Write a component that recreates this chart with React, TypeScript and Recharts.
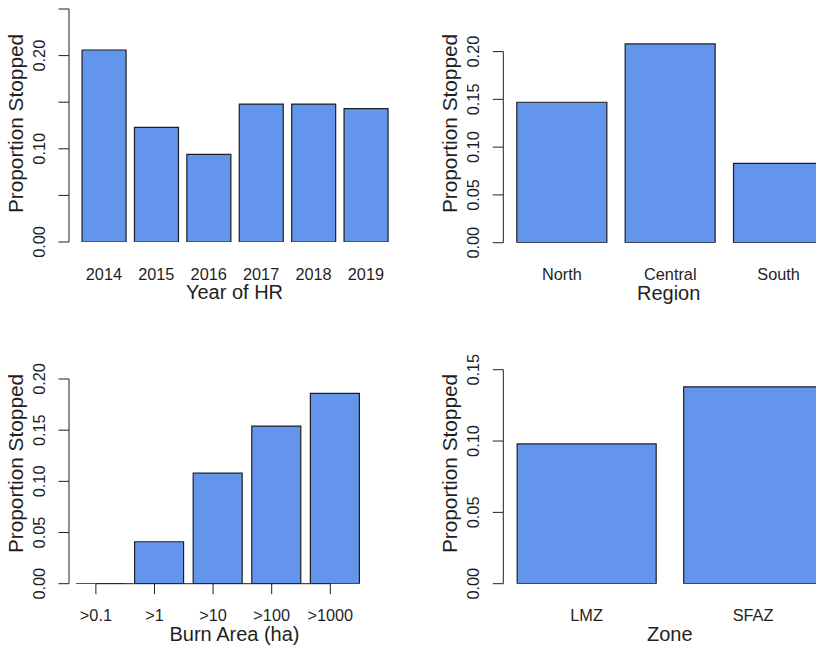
import { BarChart, Bar, XAxis, YAxis } from 'recharts';

// Proportion stopped, split four ways
const years = ['2014', '2015', '2016', '2017', '2018', '2019'];
const yearProp = [0.206, 0.123, 0.094, 0.148, 0.148, 0.143];
const yearTicks = [0, 0.05, 0.1, 0.15, 0.2, 0.25];

const regions = ['North', 'Central', 'South'];
const regionProp = [0.147, 0.208, 0.083];
const regionTicks = [0, 0.05, 0.1, 0.15, 0.2];

const burnAreas = ['>0.1', '>1', '>10', '>100', '>1000'];
const burnProp = [0, 0.041, 0.108, 0.154, 0.186];
const burnTicks = [0, 0.05, 0.1, 0.15, 0.2];

const zones = ['LMZ', 'SFAZ'];
const zoneProp = [0.098, 0.138];
const zoneTicks = [0, 0.05, 0.1, 0.15];

const FONT = '"Liberation Sans", Arial, sans-serif';
const INK = '#1f1f1f';
const BAR_FILL = '#6495ED';
const TICK_LEN = 10.5;

const toRows = (names: string[], values: number[]) =>
  names.map((name, i) => ({ name, value: values[i] }));

// R draws zero-height bars as a flat line, so use a path instead of a rect
function barShape(props: any) {
  const { x, y, width, height } = props;
  return (
    <path
      d={`M${x},${y}h${width}v${height}h${-width}Z`}
      fill={BAR_FILL}
      stroke={INK}
      strokeWidth={1.2}
    />
  );
}

// y ticks: tick mark, axis segment down to previous tick, rotated label
function makeYTick(labelEvery: number) {
  const prev: number[] = [];
  return (props: any) => {
    const { x, y, payload, index } = props;
    prev[index] = y;
    const lx = x - 24;
    return (
      <g>
        <line x1={x - TICK_LEN} x2={x} y1={y} y2={y} stroke={INK} />
        {index > 0 && <line x1={x} x2={x} y1={prev[index - 1]} y2={y} stroke={INK} />}
        {index % labelEvery === 0 && (
          <text
            x={lx}
            y={y}
            transform={`rotate(-90, ${lx}, ${y})`}
            textAnchor="middle"
            fontSize={16.3}
            fontFamily={FONT}
            fill={INK}
          >
            {Number(payload.value).toFixed(2)}
          </text>
        )}
      </g>
    );
  };
}

function makeXTick(shift: number, withAxis: boolean) {
  const prev: number[] = [];
  return (props: any) => {
    const { x, y, payload, index } = props;
    const cx = x + shift;
    prev[index] = cx;
    return (
      <g>
        {withAxis && <line x1={cx} x2={cx} y1={y} y2={y + TICK_LEN} stroke={INK} />}
        {withAxis && index > 0 && (
          <line x1={prev[index - 1]} x2={cx} y1={y} y2={y} stroke={INK} />
        )}
        <text x={cx} y={y + 37.5} textAnchor="middle" fontSize={16.3} fontFamily={FONT} fill={INK}>
          {payload.value}
        </text>
      </g>
    );
  };
}

function yTitle(text: string) {
  return (props: any) => {
    const vb = props.viewBox;
    const bx = vb.x + vb.width - 46;
    const cy = 123.5;
    return (
      <text
        x={bx}
        y={cy}
        transform={`rotate(-90, ${bx}, ${cy})`}
        textAnchor="middle"
        fontSize={20.8}
        fontFamily={FONT}
        fill={INK}
      >
        {text}
      </text>
    );
  };
}

function xTitle(text: string) {
  return (props: any) => {
    const vb = props.viewBox;
    return (
      <text x={vb.x + vb.width / 2} y={vb.y + 57} textAnchor="middle" fontSize={20} fontFamily={FONT} fill={INK}>
        {text}
      </text>
    );
  };
}

interface PanelProps {
  left: number;
  top: number;
  height: number;
  marginTop: number;
  marginRight: number;
  axisWidth: number;
  plotBottom: number;
  padLeft: number;
  padRight: number;
  data: { name: string; value: number }[];
  ticks: number[];
  labelEvery: number;
  xLabel: string;
  tickShift?: number;
  withXAxis?: boolean;
}

function Panel(p: PanelProps) {
  return (
    <div style={{ position: 'absolute', left: p.left, top: p.top }}>
      <BarChart
        width={420}
        height={p.height}
        data={p.data}
        margin={{ top: p.marginTop, right: p.marginRight, bottom: 0, left: 0 }}
        barCategoryGap="8.333%"
      >
        <XAxis
          dataKey="name"
          interval={0}
          height={p.height - p.plotBottom}
          axisLine={false}
          tickLine={false}
          tickSize={0}
          tickMargin={0}
          padding={{ left: p.padLeft, right: p.padRight }}
          tick={makeXTick(p.tickShift ?? 0, !!p.withXAxis)}
          label={xTitle(p.xLabel)}
        />
        <YAxis
          width={p.axisWidth}
          domain={[p.ticks[0], 0.25]}
          ticks={p.ticks}
          interval={0}
          allowDataOverflow
          axisLine={false}
          tickLine={false}
          tickSize={0}
          tickMargin={0}
          tick={makeYTick(p.labelEvery)}
          label={yTitle('Proportion Stopped')}
        />
        <Bar dataKey="value" shape={barShape} isAnimationActive={false} />
      </BarChart>
    </div>
  );
}

export default function App() {
  return (
    <div
      style={{
        position: 'fixed',
        left: 0,
        top: 0,
        width: 816,
        height: 647,
        overflow: 'hidden',
        background: '#fff',
      }}
    >
      <Panel
        left={0}
        top={0}
        height={330}
        marginTop={9}
        marginRight={20}
        axisWidth={69}
        plotBottom={242}
        padLeft={8.7}
        padRight={7.9}
        data={toRows(years, yearProp)}
        ticks={yearTicks}
        labelEvery={2}
        xLabel="Year of HR"
      />
      <Panel
        left={420}
        top={0}
        height={330}
        marginTop={3.8}
        marginRight={6}
        axisWidth={83.3}
        plotBottom={242.7}
        padLeft={4.5}
        padRight={1.2}
        data={toRows(regions, regionProp)}
        ticks={regionTicks}
        labelEvery={1}
        xLabel="Region"
      />
      <Panel
        left={0}
        top={340}
        height={307}
        marginTop={39 - 0.05 * 1023.5}
        marginRight={20}
        axisWidth={69}
        plotBottom={243.7}
        padLeft={2.1}
        padRight={35.9}
        data={toRows(burnAreas, burnProp)}
        ticks={burnTicks}
        labelEvery={1}
        xLabel="Burn Area (ha)"
        tickShift={-4.5}
        withXAxis
      />
      <Panel
        left={420}
        top={340}
        height={307}
        marginTop={29.7 - 0.1 * 1426.7}
        marginRight={3.7}
        axisWidth={83.3}
        plotBottom={243.7}
        padLeft={0}
        padRight={0}
        data={toRows(zones, zoneProp)}
        ticks={zoneTicks}
        labelEvery={1}
        xLabel="Zone"
      />
    </div>
  );
}
